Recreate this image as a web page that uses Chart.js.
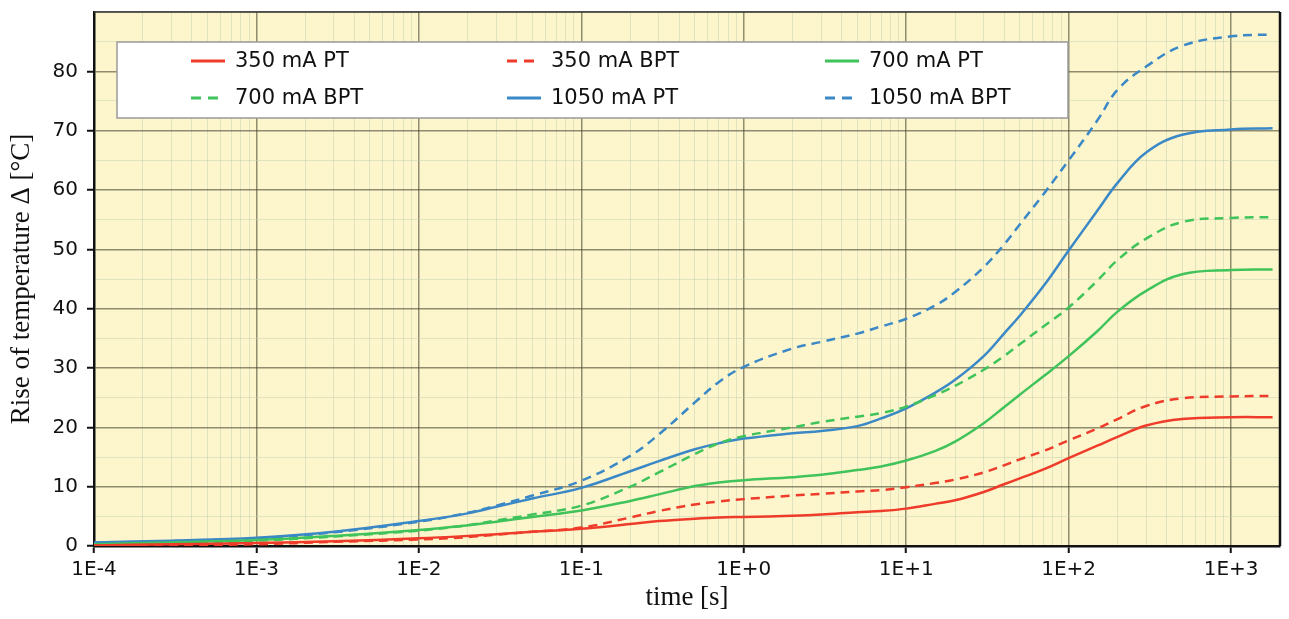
<!DOCTYPE html>
<html>
<head>
<meta charset="utf-8">
<script src="https://cdn.jsdelivr.net/npm/chart.js@4.4.1/dist/chart.umd.min.js"></script>
<style>
  html, body { margin: 0; padding: 0; background: #fff; }
  #wrap { width: 1289px; height: 619px; }
</style>
</head>
<body>
<div id="wrap"><canvas id="tempChart" width="1289" height="619"></canvas></div>
<script>
// sample times [s]
const times = [1e-4, 3e-4, 1e-3, 3e-3, 0.01, 0.02, 0.03, 0.05, 0.1, 0.2, 0.3, 0.5, 0.7, 1, 2, 3, 5, 7, 10, 15, 20, 30, 40, 50, 70, 100, 150, 200, 300, 500, 1000, 1800];

// temperature rise [°C]
const pt350   = [0.1, 0.3, 0.5, 0.8, 1.3, 1.7, 2.0, 2.4, 2.9, 3.7, 4.2, 4.6, 4.8, 4.9, 5.1, 5.3, 5.7, 5.9, 6.3, 7.1, 7.7, 9.1, 10.4, 11.4, 12.9, 14.8, 16.9, 18.4, 20.3, 21.4, 21.7, 21.7];
const bpt350  = [0.0, 0.15, 0.3, 0.7, 1.1, 1.5, 1.9, 2.4, 3.1, 4.8, 5.9, 7.0, 7.5, 7.9, 8.5, 8.8, 9.2, 9.4, 9.9, 10.6, 11.2, 12.4, 13.6, 14.6, 16.0, 17.8, 19.8, 21.4, 23.6, 24.9, 25.2, 25.3];
const pt700   = [0.3, 0.6, 1.0, 1.7, 2.7, 3.5, 4.1, 4.9, 6.0, 7.6, 8.7, 10.1, 10.7, 11.1, 11.6, 12.0, 12.8, 13.4, 14.4, 16.0, 17.6, 20.7, 23.4, 25.5, 28.6, 32.0, 36.2, 39.5, 43.0, 45.8, 46.5, 46.6];
const bpt700  = [0.2, 0.5, 0.9, 1.6, 2.6, 3.5, 4.3, 5.3, 6.8, 10.0, 12.4, 15.5, 17.3, 18.5, 20.0, 20.9, 21.8, 22.4, 23.5, 25.4, 27.0, 29.7, 32.0, 34.0, 37.0, 40.2, 44.7, 48.2, 51.8, 54.6, 55.3, 55.4];
const pt1050  = [0.6, 0.9, 1.4, 2.4, 4.2, 5.5, 6.6, 8.0, 9.8, 12.6, 14.3, 16.3, 17.3, 18.1, 19.0, 19.4, 20.2, 21.5, 23.2, 25.8, 28.0, 32.0, 35.8, 38.8, 43.8, 49.8, 56.5, 61.2, 66.3, 69.3, 70.2, 70.4];
const bpt1050 = [0.5, 0.8, 1.3, 2.3, 4.1, 5.6, 6.8, 8.5, 11.0, 15.2, 18.8, 24.2, 27.6, 30.2, 33.3, 34.4, 35.8, 37.0, 38.3, 40.5, 42.8, 47.0, 50.8, 54.2, 59.3, 65.0, 71.7, 76.9, 80.8, 84.3, 85.9, 86.2];

const decades = [1e-4, 1e-3, 1e-2, 1e-1, 1, 10, 100, 1000];
const xTickLabels = ['1E-4', '1E-3', '1E-2', '1E-1', '1E+0', '1E+1', '1E+2', '1E+3'];

const RED = '#ee3b2a', GREEN = '#3fc35a', BLUE = '#3b88c6';
const DASH = [9, 6];

const toPoints = vals => times.map((t, i) => ({ x: t, y: vals[i] }));
const decadeIndex = v => decades.findIndex(d => Math.abs(v / d - 1) < 1e-6);

function series(label, vals, color, dashed) {
  return {
    label: label,
    data: toPoints(vals),
    borderColor: color,
    backgroundColor: color,
    borderWidth: 2.5,
    borderDash: dashed ? DASH : [],
    pointRadius: 0,
    tension: 0.4,
    fill: false
  };
}

// yellow plot area + top/right frame
const plotBg = {
  id: 'plotBg',
  beforeDraw(chart) {
    const c = chart.ctx, a = chart.chartArea;
    c.save();
    c.fillStyle = '#ffffff';
    c.fillRect(0, 0, chart.width, chart.height);
    c.fillStyle = '#fdf6cc';
    c.fillRect(a.left, a.top, a.right - a.left, a.bottom - a.top);
    c.restore();
  },
  afterDatasetsDraw(chart) {
    const c = chart.ctx, a = chart.chartArea;
    c.save();
    c.strokeStyle = '#3a3a3a';
    c.lineWidth = 1.5;
    c.beginPath(); c.moveTo(a.left, a.top); c.lineTo(a.right, a.top); c.stroke();
    c.strokeStyle = '#111';
    c.lineWidth = 2.5;
    c.beginPath(); c.moveTo(a.right, a.top); c.lineTo(a.right, a.bottom); c.stroke();
    c.restore();
  }
};

// boxed legend, 3 columns x 2 rows
const legendBox = {
  id: 'legendBox',
  afterDraw(chart) {
    const c = chart.ctx;
    const colX = [191, 507, 825];
    const rowY = [61, 98];
    c.save();
    c.fillStyle = '#ffffff';
    c.fillRect(117, 42, 951, 76);
    c.strokeStyle = '#9a9a9a';
    c.lineWidth = 1.5;
    c.strokeRect(117, 42, 951, 76);
    c.font = '21px "DejaVu Sans"';
    c.textBaseline = 'middle';
    chart.data.datasets.forEach((ds, i) => {
      const x = colX[i % 3], y = rowY[Math.floor(i / 3)];
      c.strokeStyle = ds.borderColor;
      c.lineWidth = 3;
      c.setLineDash(ds.borderDash.length ? [10, 7] : []);
      c.beginPath(); c.moveTo(x, y); c.lineTo(x + 34, y); c.stroke();
      c.setLineDash([]);
      c.fillStyle = '#111';
      c.fillText(ds.label, x + 44, y + 1);
    });
    c.restore();
  }
};

const ctx = document.getElementById('tempChart').getContext('2d');
const tempChart = new Chart(ctx, {
  type: 'line',
  data: {
    datasets: [
      series('350 mA PT', pt350, RED, false),
      series('350 mA BPT', bpt350, RED, true),
      series('700 mA PT', pt700, GREEN, false),
      series('700 mA BPT', bpt700, GREEN, true),
      series('1050 mA PT', pt1050, BLUE, false),
      series('1050 mA BPT', bpt1050, BLUE, true)
    ]
  },
  options: {
    responsive: false,
    animation: false,
    layout: { padding: { top: 12, right: 9, left: 0, bottom: 0 } },
    plugins: {
      legend: { display: false },
      tooltip: { enabled: false }
    },
    scales: {
      x: {
        type: 'logarithmic',
        min: 1e-4,
        max: 2000,
        afterFit: s => { s.height = 73; s.paddingLeft = 0; s.paddingRight = 0; },
        afterBuildTicks: s => {
          const ticks = [];
          decades.forEach(d => {
            for (let k = 1; k <= 9; k++) {
              if (k * d <= 2000) ticks.push({ value: k * d });
            }
          });
          s.ticks = ticks;
        },
        border: { color: '#111', width: 2.5 },
        grid: {
          color: c => decadeIndex(c.tick.value) >= 0 ? 'rgba(70,70,50,0.6)' : 'rgba(190,205,175,0.45)',
          lineWidth: c => decadeIndex(c.tick.value) >= 0 ? 1.5 : 1,
          tickColor: c => decadeIndex(c.tick.value) >= 0 ? '#111' : 'rgba(0,0,0,0)',
          tickLength: 7,
          tickWidth: 2
        },
        ticks: {
          autoSkip: false,
          maxRotation: 0,
          padding: 5,
          color: '#111',
          font: { family: 'DejaVu Sans', size: 20 },
          callback: v => {
            const i = decadeIndex(v);
            return i >= 0 ? xTickLabels[i] : '';
          }
        },
        title: {
          display: true,
          text: 'time [s]',
          color: '#111',
          font: { family: 'Liberation Serif', size: 27 },
          padding: { top: 0, bottom: 5 }
        }
      },
      y: {
        type: 'linear',
        min: 0,
        max: 90,
        afterFit: s => { s.width = 94; s.paddingTop = 0; s.paddingBottom = 0; },
        border: { color: '#111', width: 2.5 },
        grid: {
          color: c => c.tick.value % 10 === 0 ? 'rgba(70,70,50,0.6)' : 'rgba(190,205,175,0.45)',
          lineWidth: c => c.tick.value % 10 === 0 ? 1.5 : 1,
          tickColor: c => c.tick.value % 10 === 0 && c.tick.value < 90 ? '#111' : 'rgba(0,0,0,0)',
          tickLength: 7,
          tickWidth: 2
        },
        ticks: {
          stepSize: 5,
          padding: 9,
          color: '#111',
          font: { family: 'DejaVu Sans', size: 20 },
          callback: v => (v % 10 === 0 && v < 90) ? String(v) : ''
        },
        title: {
          display: true,
          text: 'Rise of temperature Δ [°C]',
          color: '#111',
          font: { family: 'Liberation Serif', size: 27 },
          padding: { top: 6, bottom: 0 }
        }
      }
    }
  },
  plugins: [plotBg, legendBox]
});
</script>
</body>
</html>
